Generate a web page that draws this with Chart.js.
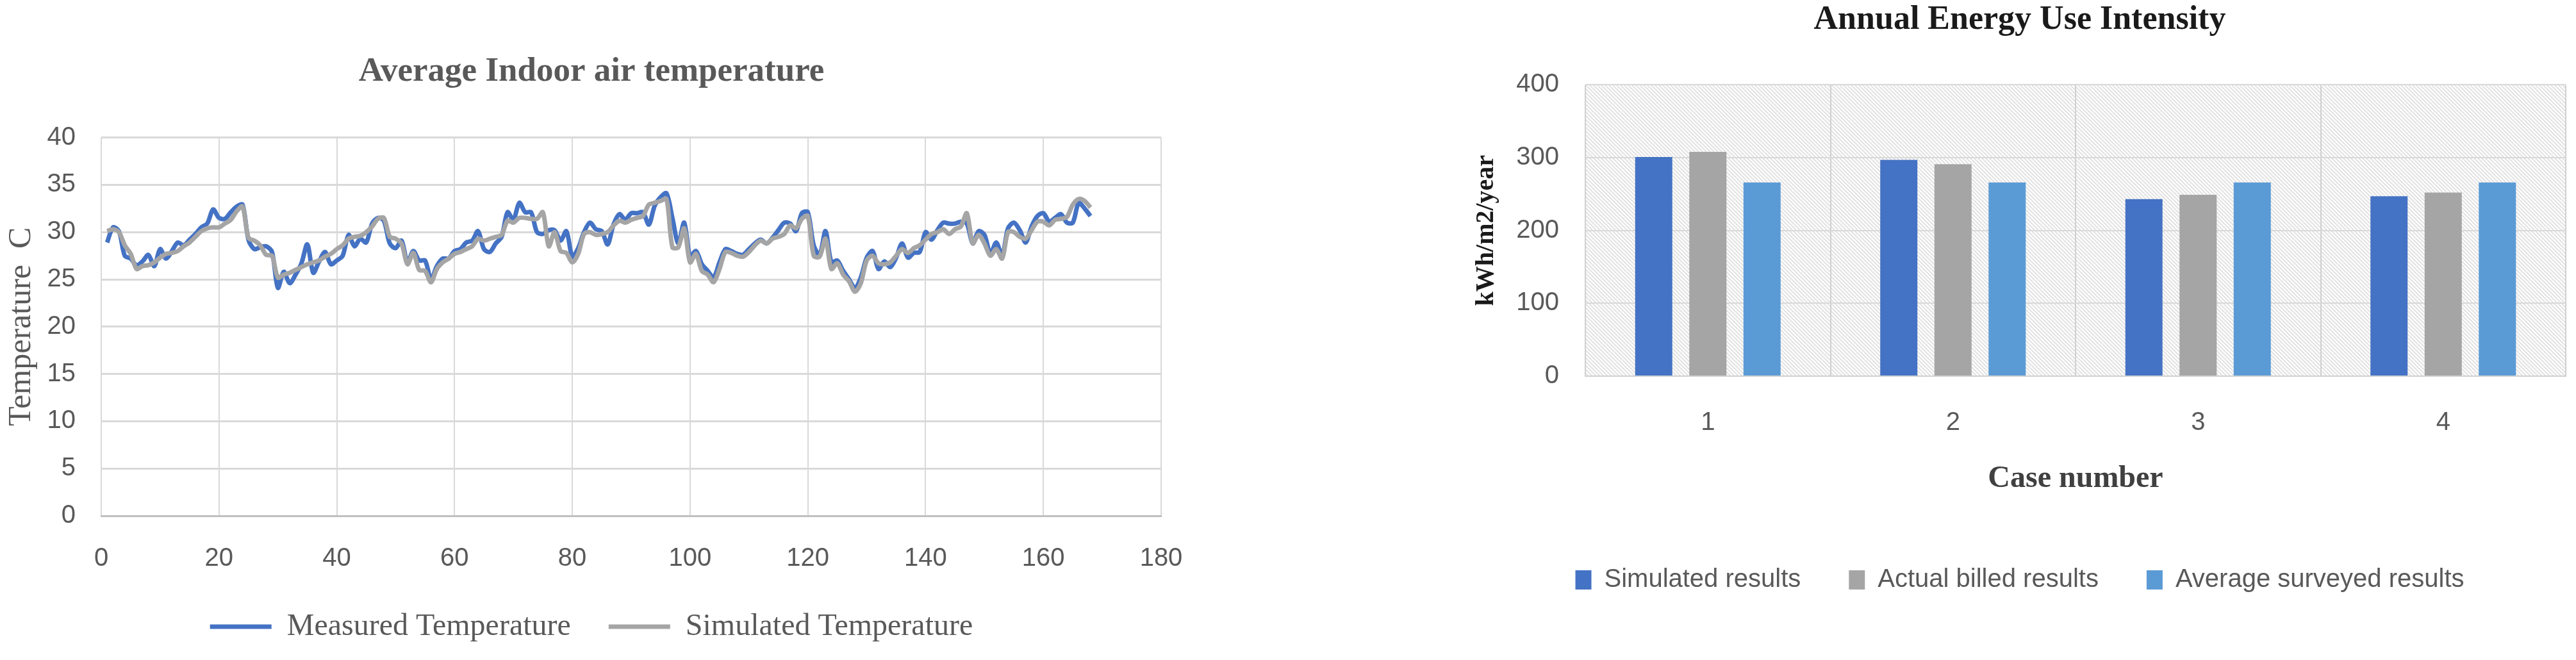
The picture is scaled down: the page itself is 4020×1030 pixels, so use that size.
<!DOCTYPE html>
<html>
<head>
<meta charset="utf-8">
<script src="https://cdn.jsdelivr.net/npm/chart.js@4.4.1/dist/chart.umd.min.js"></script>
<style>
  html, body { margin: 0; padding: 0; background: #fff; }
  body { width: 4020px; height: 1030px; position: relative; overflow: hidden; }
  #tempChart { position: absolute; left: 0; top: 0; }
  #euiChart { position: absolute; left: 2300px; top: 0; }
</style>
</head>
<body>
<canvas id="tempChart" width="1846" height="1030"></canvas>
<canvas id="euiChart" width="1720" height="1030"></canvas>
<script>
// hour index of the week (x of the left chart)
const hours = Array.from({ length: 168 }, (_, i) => i + 1);

const measuredTemp = [
  28.9, 30.5, 30.1, 27.5, 27.2, 26.5, 26.9, 27.6, 26.4, 28.2, 27.2, 28.0, 28.9, 28.6, 29.2, 29.8,
  30.5, 30.9, 32.4, 31.5, 31.4, 32.1, 32.7, 32.9, 29.2, 28.2, 28.4, 28.5, 27.9, 24.1, 25.8, 24.6,
  25.5, 26.7, 28.7, 25.7, 26.9, 27.9, 26.6, 27.0, 27.5, 29.7, 28.5, 29.3, 28.9, 30.9, 31.5, 31.2,
  28.8, 28.3, 29.1, 26.8, 28.0, 27.0, 27.0, 25.0, 26.4, 27.2, 27.2, 28.0, 28.2, 28.9, 29.1, 30.1,
  28.2, 27.9, 28.8, 29.5, 32.1, 31.3, 33.1, 32.1, 32.1, 30.0, 29.8, 30.2, 30.2, 29.1, 30.1, 27.4,
  28.3, 30.0, 31.0, 30.3, 30.1, 28.7, 30.8, 31.9, 31.3, 32.0, 32.0, 32.1, 30.8, 32.8, 33.7, 34.1,
  31.5, 28.8, 31.0, 27.4, 28.0, 26.6, 25.9, 25.2, 26.8, 28.2, 28.0, 27.7, 27.6, 28.2, 28.8, 29.2,
  28.8, 29.4, 30.2, 31.0, 30.9, 30.1, 32.0, 32.1, 28.6, 27.6, 30.1, 26.8, 27.0, 25.9, 25.0, 24.1,
  25.2, 27.3, 28.0, 26.1, 26.9, 26.3, 27.3, 28.8, 27.3, 27.8, 27.9, 30.0, 29.2, 30.2, 31.0, 30.9,
  30.9, 31.1, 30.9, 28.8, 30.1, 29.7, 27.7, 28.9, 27.5, 30.4, 31.0, 30.2, 28.9, 30.6, 31.7, 32.0,
  31.1, 31.5, 31.9, 31.0, 31.0, 33.1, 32.5, 31.7
];

const simulatedTemp = [
  30.1, 30.3, 30.0, 28.6, 27.7, 26.1, 26.4, 26.5, 26.8, 27.3, 27.7, 27.8, 28.0, 28.5, 28.9, 29.5,
  30.1, 30.4, 30.5, 30.5, 30.9, 31.3, 32.2, 32.7, 29.4, 29.1, 28.6, 27.6, 27.5, 25.2, 25.5, 25.7,
  26.0, 26.3, 26.6, 26.8, 27.0, 27.4, 27.7, 28.2, 28.6, 29.3, 29.5, 29.6, 30.0, 30.6, 31.4, 31.5,
  29.5, 29.3, 28.8, 26.6, 27.8, 26.0, 25.9, 24.7, 26.1, 26.8, 27.2, 27.7, 27.9, 28.2, 28.5, 29.3,
  29.1, 29.3, 29.5, 29.7, 31.2, 31.0, 31.5, 31.5, 31.4, 31.4, 32.1, 28.5, 30.0, 28.0, 27.8, 26.8,
  27.7, 29.8, 30.0, 29.7, 29.8, 30.0, 30.7, 31.2, 31.0, 31.3, 31.5, 31.7, 32.9, 33.1, 33.3, 33.5,
  28.4, 28.4, 30.4, 26.8, 27.7, 25.9, 25.5, 24.7, 26.1, 27.9, 27.8, 27.5, 27.4, 27.9, 28.6, 29.1,
  28.8, 29.3, 29.5, 29.8, 30.7, 30.4, 31.4, 31.7, 27.5, 27.4, 29.3, 26.1, 26.7, 25.5, 24.8, 23.7,
  24.6, 27.0, 27.5, 26.7, 26.6, 26.8, 27.5, 28.2, 27.8, 28.3, 28.6, 29.2, 29.8, 30.0, 30.3, 29.8,
  30.3, 30.6, 32.0, 28.8, 29.7, 28.8, 27.5, 28.2, 27.2, 30.0, 30.0, 29.5, 29.3, 30.2, 31.1, 31.1,
  30.7, 31.3, 31.4, 31.6, 32.9, 33.5, 33.3, 32.6
];

const caseNumbers = ["1", "2", "3", "4"];
const simulatedEUI = [301, 297, 243, 247];
const billedEUI = [308, 291, 249, 252];
const surveyedEUI = [266, 266, 266, 266];

const greyText = "#595959";
const tickFont = { family: "Liberation Sans", size: 40 };

// Average Indoor air temperature
const tempCtx = document.getElementById("tempChart").getContext("2d");
new Chart(tempCtx, {
    type: "line",
    data: {
        datasets: [{
            label: "Measured Temperature",
            data: hours.map((h, i) => ({ x: h, y: measuredTemp[i] })),
            borderColor: "#4472C4",
            backgroundColor: "#4472C4",
            borderWidth: 7,
            pointRadius: 0,
            tension: 0.3,
            order: 2
        }, {
            label: "Simulated Temperature",
            data: hours.map((h, i) => ({ x: h, y: simulatedTemp[i] })),
            borderColor: "#A5A5A5",
            backgroundColor: "#A5A5A5",
            borderWidth: 7,
            pointRadius: 0,
            tension: 0.3,
            order: 1
        }]
    },
    options: {
        responsive: false,
        animation: false,
        devicePixelRatio: 1,
        layout: { padding: { left: 0, right: 0, top: 0, bottom: 18 } },
        plugins: {
            title: {
                display: true,
                text: "Average Indoor air temperature",
                color: greyText,
                font: { family: "Liberation Serif", size: 53, weight: "bold", lineHeight: 1.2 },
                padding: { top: 81, bottom: 70 }
            },
            legend: {
                position: "bottom",
                labels: {
                    color: greyText,
                    font: { family: "Liberation Serif", size: 48 },
                    boxWidth: 96,
                    boxHeight: 7,
                    padding: 59,
                    sort: (a, b) => a.datasetIndex - b.datasetIndex,
                    generateLabels: chart => Chart.defaults.plugins.legend.labels.generateLabels(chart)
                        .map(item => ({ ...item, lineWidth: 0 }))
                }
            },
            tooltip: { enabled: false }
        },
        scales: {
            x: {
                type: "linear",
                min: 0,
                max: 180,
                ticks: { stepSize: 20, padding: 43, color: greyText, font: tickFont },
                grid: { color: "#d9d9d9", lineWidth: 2, drawTicks: false },
                border: { color: "#bfbfbf", width: 3 },
                afterFit: scale => {
                    scale.height = 90;
                    scale.paddingRight = 34;
                }
            },
            y: {
                min: 0,
                max: 40,
                ticks: { stepSize: 5, padding: 40, color: greyText, font: tickFont },
                grid: { color: "#d9d9d9", lineWidth: 3, drawTicks: false },
                border: { display: false },
                title: {
                    display: true,
                    text: "Temperature  C",
                    color: greyText,
                    font: { family: "Liberation Serif", size: 50, lineHeight: 1.2 },
                    padding: { top: 4, bottom: 0 }
                },
                afterFit: scale => { scale.width = 158; }
            }
        }
    }
});

// hatched plot background of the Excel style bar chart
const hatchPlugin = {
    id: "hatch",
    beforeDraw(chart) {
        const { ctx, chartArea: a } = chart;
        const tile = document.createElement("canvas");
        tile.width = 6;
        tile.height = 6;
        const t = tile.getContext("2d");
        t.fillStyle = "#fbfbfb";
        t.fillRect(0, 0, 6, 6);
        t.strokeStyle = "#d4d4d4";
        t.lineWidth = 1.2;
        t.beginPath();
        t.moveTo(-1, -1); t.lineTo(7, 7);
        t.moveTo(-1, 5); t.lineTo(1, 7);
        t.moveTo(5, -1); t.lineTo(7, 1);
        t.stroke();
        ctx.save();
        ctx.fillStyle = ctx.createPattern(tile, "repeat");
        ctx.fillRect(a.left, a.top, a.right - a.left, a.bottom - a.top);
        ctx.restore();
    }
};

// Annual Energy Use Intensity
const euiCtx = document.getElementById("euiChart").getContext("2d");
new Chart(euiCtx, {
    type: "bar",
    data: {
        labels: caseNumbers,
        datasets: [{
            label: "Simulated results",
            data: simulatedEUI,
            backgroundColor: "#4472C4"
        }, {
            label: "Actual billed results",
            data: billedEUI,
            backgroundColor: "#A5A5A5"
        }, {
            label: "Average surveyed results",
            data: surveyedEUI,
            backgroundColor: "#5B9BD5"
        }]
    },
    options: {
        responsive: false,
        animation: false,
        devicePixelRatio: 1,
        categoryPercentage: 0.663,
        barPercentage: 0.686,
        layout: { padding: { left: 0, right: 16, top: 0, bottom: 95 } },
        plugins: {
            title: {
                display: true,
                text: "Annual Energy Use Intensity",
                color: "#1a1a1a",
                font: { family: "Liberation Serif", size: 52, weight: "bold", lineHeight: 1.2 },
                padding: { top: 0, bottom: 70 }
            },
            legend: {
                position: "bottom",
                labels: {
                    color: greyText,
                    font: { family: "Liberation Sans", size: 40 },
                    boxWidth: 25,
                    boxHeight: 30,
                    padding: 75
                }
            },
            tooltip: { enabled: false }
        },
        scales: {
            x: {
                grid: { color: "#d0d0d0", lineWidth: 2, drawTicks: false },
                border: { color: "#d0d0d0", width: 2 },
                ticks: { padding: 49, color: greyText, font: tickFont },
                title: {
                    display: true,
                    text: "Case number",
                    color: "#404040",
                    font: { family: "Liberation Serif", size: 48, weight: "bold", lineHeight: 1.2 },
                    padding: { top: 0, bottom: 34 }
                },
                afterFit: scale => { scale.height = 223; }
            },
            y: {
                min: 0,
                max: 400,
                ticks: { stepSize: 100, padding: 41, color: greyText, font: tickFont },
                grid: { color: "#d9d9d9", lineWidth: 2, drawTicks: false },
                border: { display: false },
                title: {
                    display: true,
                    text: "kWh/m2/year",
                    color: "#1a1a1a",
                    font: { family: "Liberation Serif", size: 40, weight: "bold", lineHeight: 1 },
                    padding: { top: 0, bottom: 0 }
                },
                afterFit: scale => { scale.width = 174; }
            }
        }
    },
    plugins: [hatchPlugin]
});
</script>
</body>
</html>
